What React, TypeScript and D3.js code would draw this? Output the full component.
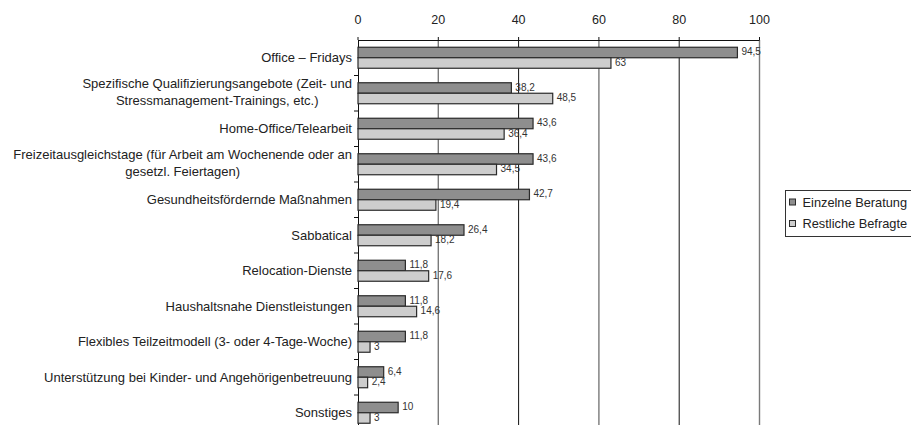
import React, { useEffect, useRef } from "react";
import * as d3 from "d3";

const categories: string[][] = [
  ["Office – Fridays"],
  ["Spezifische Qualifizierungsangebote (Zeit- und", "Stressmanagement-Trainings, etc.)"],
  ["Home-Office/Telearbeit"],
  ["Freizeitausgleichstage (für Arbeit am Wochenende oder an", "gesetzl. Feiertagen)"],
  ["Gesundheitsfördernde Maßnahmen"],
  ["Sabbatical"],
  ["Relocation-Dienste"],
  ["Haushaltsnahe Dienstleistungen"],
  ["Flexibles Teilzeitmodell (3- oder 4-Tage-Woche)"],
  ["Unterstützung bei Kinder- und Angehörigenbetreuung"],
  ["Sonstiges"],
];
const einzelne: number[] = [94.5, 38.2, 43.6, 43.6, 42.7, 26.4, 11.8, 11.8, 11.8, 6.4, 10];
const restliche: number[] = [63, 48.5, 36.4, 34.5, 19.4, 18.2, 17.6, 14.6, 3, 2.4, 3];
const seriesNames: string[] = ["Einzelne Beratung", "Restliche Befragte"];
const xTicks: number[] = [0, 20, 40, 60, 80, 100];

const COLORS = ["#8e8e8e", "#cdcdcd"];
const FONT = "'Liberation Sans', Arial, sans-serif";

export default function App() {
  const ref = useRef<SVGSVGElement>(null);

  useEffect(() => {
    const svg = d3.select(ref.current);
    svg.selectAll("*").remove();

    const left = 358;
    const right = 759.5;
    const top = 40;
    const step = 35.5;
    const bottom = top + step * categories.length;

    const x = d3.scaleLinear().domain([0, 100]).range([left, right]);
    const y = d3
      .scaleBand<number>()
      .domain(categories.map((_, i) => i))
      .range([top, bottom])
      .paddingInner(0)
      .paddingOuter(0);
    const barH = 10.5;

    // gridlines
    const grid = svg.append("g");
    xTicks.slice(1).forEach((t, i) => {
      grid
        .append("line")
        .attr("x1", x(t))
        .attr("x2", x(t))
        .attr("y1", top)
        .attr("y2", bottom)
        .attr("stroke", i % 2 === 0 ? "#7a7a7a" : "#111")
        .attr("stroke-width", i % 2 === 0 ? 1.4 : 1);
    });

    // top axis
    const ax = svg.append("g");
    ax.append("line")
      .attr("x1", left)
      .attr("x2", right)
      .attr("y1", top + 0.5)
      .attr("y2", top + 0.5)
      .attr("stroke", "#111");
    xTicks.forEach((t) => {
      ax.append("line")
        .attr("x1", x(t))
        .attr("x2", x(t))
        .attr("y1", top - 3)
        .attr("y2", top)
        .attr("stroke", "#111");
      ax.append("text")
        .attr("x", x(t))
        .attr("y", 20)
        .attr("text-anchor", "middle")
        .attr("dominant-baseline", "central")
        .attr("font-family", FONT)
        .attr("font-size", 12.5)
        .attr("fill", "#222")
        .text(String(t));
    });

    // left axis
    ax.append("line")
      .attr("x1", left + 0.5)
      .attr("x2", left + 0.5)
      .attr("y1", top)
      .attr("y2", bottom)
      .attr("stroke", "#111");
    categories.forEach((_, i) => {
      const yy = (y(i) as number) + step;
      ax.append("line")
        .attr("x1", left - 4)
        .attr("x2", left)
        .attr("y1", yy)
        .attr("y2", yy)
        .attr("stroke", "#111");
    });

    // bars
    const series = [einzelne, restliche];
    const bars = svg.append("g");
    series.forEach((vals, s) => {
      vals.forEach((v, i) => {
        const by = (y(i) as number) + (step - 2 * barH) / 2 + s * barH;
        bars
          .append("rect")
          .attr("x", x(0))
          .attr("y", by)
          .attr("width", x(v) - x(0))
          .attr("height", barH)
          .attr("fill", COLORS[s])
          .attr("stroke", "#2a2a2a")
          .attr("stroke-width", 1.2);
        bars
          .append("text")
          .attr("x", x(v) + 4)
          .attr("y", by + barH / 2 - 1)
          .attr("dominant-baseline", "central")
          .attr("font-family", FONT)
          .attr("font-size", 10)
          .attr("fill", "#333")
          .text(String(v).replace(".", ","));
      });
    });

    // category labels
    const labels = svg.append("g");
    const labelRight = 352;
    categories.forEach((lines, i) => {
      const cy = (y(i) as number) + step / 2 - (lines.length > 1 ? 1.5 : 0);
      const lh = 16.5;
      const texts = lines.map((line, k) =>
        labels
          .append("text")
          .attr("y", cy + (k - (lines.length - 1) / 2) * lh)
          .attr("dominant-baseline", "central")
          .attr("text-anchor", "middle")
          .attr("font-family", FONT)
          .attr("font-size", 13)
          .attr("fill", "#222")
          .text(line)
      );
      const widths = texts.map((t) => (t.node() as SVGTextElement).getComputedTextLength());
      const w = Math.max(...widths);
      texts.forEach((t) => t.attr("x", labelRight - w / 2));
    });

    // legend
    const lg = svg.append("g");
    lg.append("rect")
      .attr("x", 785.5)
      .attr("y", 190.5)
      .attr("width", 140)
      .attr("height", 46)
      .attr("fill", "#fff")
      .attr("stroke", "#333");
    seriesNames.forEach((name, s) => {
      const cy = 202 + s * 21.5;
      lg.append("rect")
        .attr("x", 789.5)
        .attr("y", cy - 3)
        .attr("width", 6)
        .attr("height", 6)
        .attr("fill", COLORS[s])
        .attr("stroke", "#2a2a2a");
      lg.append("text")
        .attr("x", 802.5)
        .attr("y", cy)
        .attr("dominant-baseline", "central")
        .attr("font-family", FONT)
        .attr("font-size", 12.8)
        .attr("fill", "#222")
        .text(name);
    });
  }, []);

  return (
    <svg
      ref={ref}
      width={911}
      height={425}
      style={{ position: "absolute", left: 0, top: 0, display: "block", background: "#fff" }}
    />
  );
}
